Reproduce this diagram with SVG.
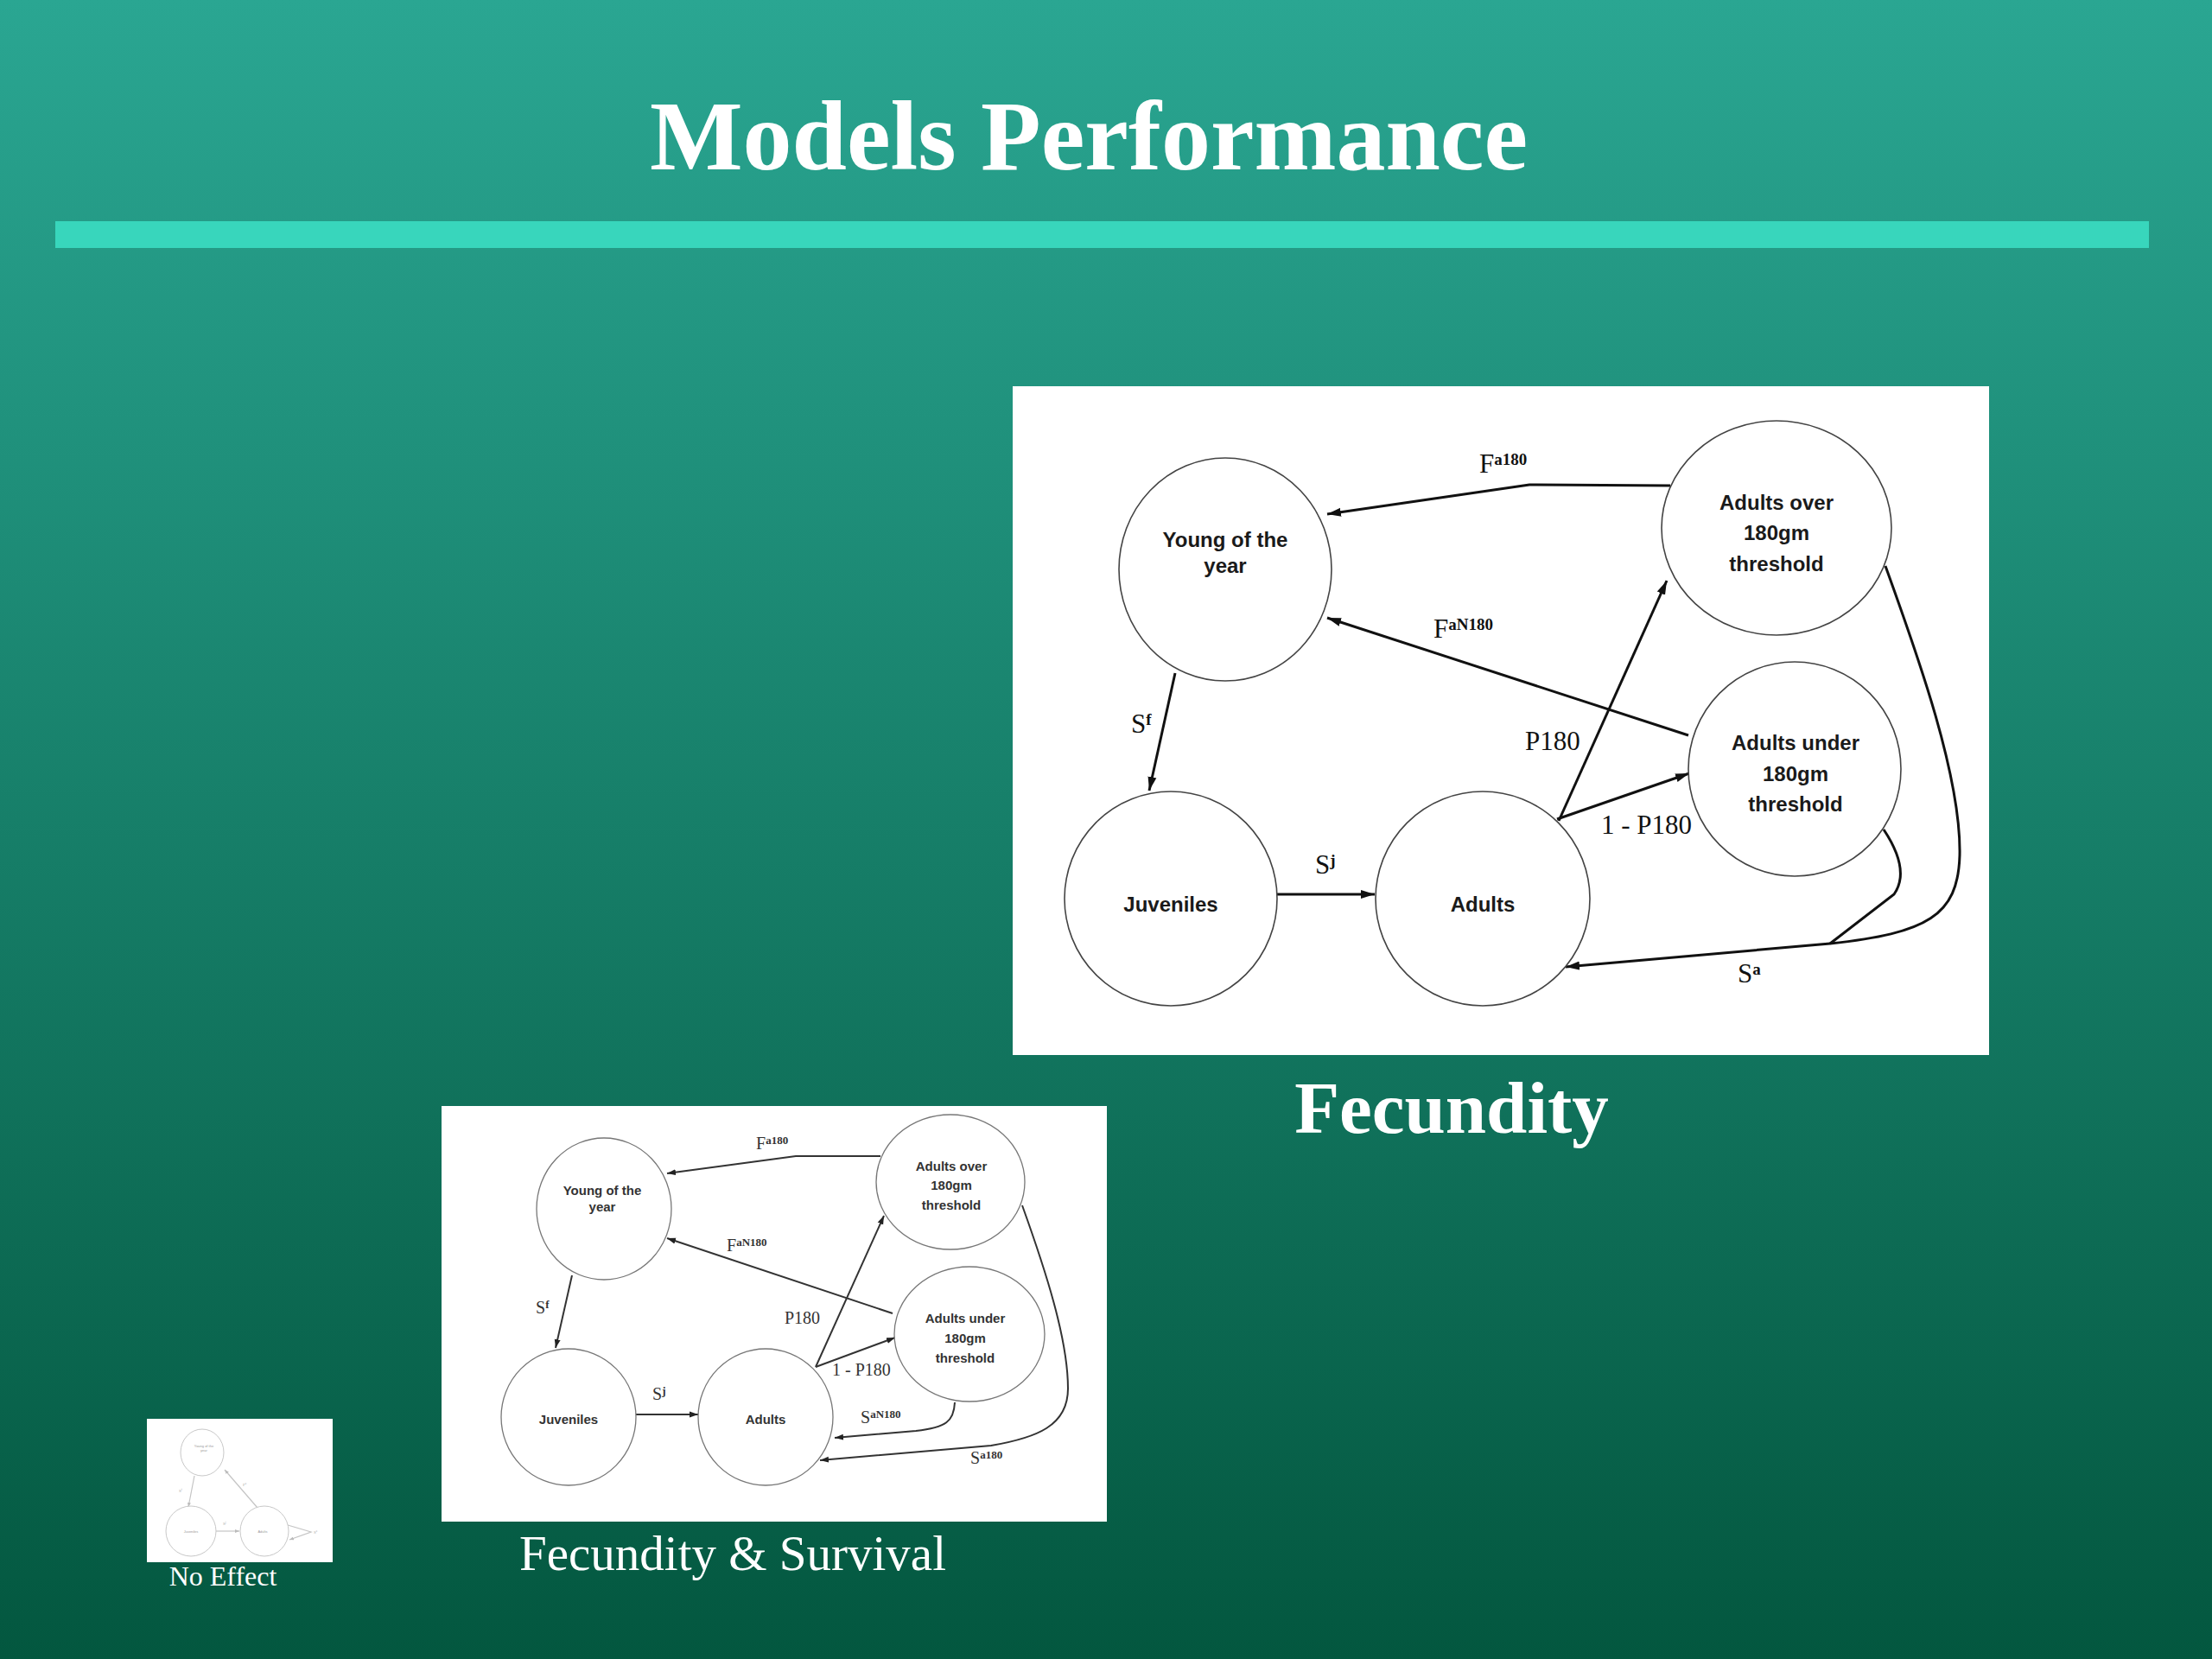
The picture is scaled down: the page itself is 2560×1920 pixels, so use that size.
<svg xmlns="http://www.w3.org/2000/svg" width="2560" height="1920" viewBox="0 0 2560 1920">
<defs>
<linearGradient id="bg" x1="0" y1="0" x2="0" y2="1">
<stop offset="0" stop-color="#2aa692"/>
<stop offset="1" stop-color="#03573f"/>
</linearGradient>
<marker id="ah" markerUnits="userSpaceOnUse" markerWidth="18" markerHeight="12" refX="16" refY="6" orient="auto">
<path d="M0,1 L16,6 L0,11 Z" fill="#111"/>
</marker>
<marker id="ah2" markerUnits="userSpaceOnUse" markerWidth="12" markerHeight="8" refX="10" refY="4" orient="auto">
<path d="M0,0.5 L10,4 L0,7.5 Z" fill="#222"/>
</marker>
<marker id="ah3" markerUnits="userSpaceOnUse" markerWidth="6" markerHeight="4" refX="5" refY="2" orient="auto">
<path d="M0,0 L5,2 L0,4 Z" fill="#bbb"/>
</marker>
</defs>
<style>
.title{font-family:"Liberation Serif","Times New Roman",serif;font-weight:bold;fill:#fff}
.cap{font-family:"Liberation Serif","Times New Roman",serif;fill:#fff}
.node1{fill:#fff;stroke:#444;stroke-width:1.6}
.node2{fill:#fff;stroke:#777;stroke-width:1.3}
.node3{fill:#fff;stroke:#c8c8c8;stroke-width:1}
.nt1{font-family:"Liberation Sans",Arial,sans-serif;font-weight:bold;font-size:24px;fill:#1a1a1a;text-anchor:middle}
.nt2{font-family:"Liberation Sans",Arial,sans-serif;font-weight:bold;font-size:15px;fill:#333;text-anchor:middle}
.nt3{font-family:"Liberation Sans",Arial,sans-serif;font-size:4px;fill:#999;text-anchor:middle}
.e1{fill:none;stroke:#111;stroke-width:3}
.e2{fill:none;stroke:#333;stroke-width:2}
.e3{fill:none;stroke:#c4c4c4;stroke-width:1.2}
.lb1{font-family:"Liberation Serif","Times New Roman",serif;font-size:31px;fill:#111}
.lb2{font-family:"Liberation Serif","Times New Roman",serif;font-size:20px;fill:#333}
.lb3{font-family:"Liberation Serif","Times New Roman",serif;font-size:5px;fill:#aaa}
.s1{font-size:19px;font-weight:bold}
.s2{font-size:13px;font-weight:bold}
</style>
<rect x="0" y="0" width="2560" height="1920" fill="url(#bg)"/>
<text class="title" x="1260" y="196" font-size="114" text-anchor="middle">Models Performance</text>
<rect x="64" y="256" width="2423" height="31" fill="#38d6bc"/>

<!-- Main diagram: Fecundity -->
<g id="panel-fecundity">
<rect x="1172" y="447" width="1130" height="774" fill="#fff"/>
<g id="connectors-main">
<path class="e1" d="M1933,562 L1770,561 L1536,595" marker-end="url(#ah)"/>
<path class="e1" d="M1954,851 L1536,715" marker-end="url(#ah)"/>
<path class="e1" d="M1360,779 L1330,915" marker-end="url(#ah)"/>
<path class="e1" d="M1478,1035 L1591,1035" marker-end="url(#ah)"/>
<path class="e1" d="M1804,950 L1929,672" marker-end="url(#ah)"/>
<path class="e1" d="M1802,948 L1955,895" marker-end="url(#ah)"/>
<path class="e1" d="M2182,655 C2220,760 2270,900 2268,990 C2266,1060 2230,1080 2118,1092 L1812,1119" marker-end="url(#ah)"/>
<path class="e1" d="M2180,960 C2200,990 2206,1015 2192,1035 L2118,1092"/>
<text class="lb1" x="1712" y="547">F<tspan class="s1" dy="-9">a180</tspan></text>
<text class="lb1" x="1659" y="738">F<tspan class="s1" dy="-9">aN180</tspan></text>
<text class="lb1" x="1309" y="848">S<tspan class="s1" dy="-9">f</tspan></text>
<text class="lb1" x="1522" y="1011">S<tspan class="s1" dy="-9">j</tspan></text>
<text class="lb1" x="1765" y="868">P180</text>
<text class="lb1" x="1853" y="965">1 - P180</text>
<text class="lb1" x="2011" y="1137">S<tspan class="s1" dy="-9">a</tspan></text>
</g>
<g id="n-young">
<ellipse class="node1" cx="1418" cy="659" rx="123" ry="129"/>
<text class="nt1" x="1418" y="633">Young of the</text>
<text class="nt1" x="1418" y="663">year</text>
</g>
<g id="n-over">
<ellipse class="node1" cx="2056" cy="611" rx="133" ry="124"/>
<text class="nt1" x="2056" y="590">Adults over</text>
<text class="nt1" x="2056" y="625">180gm</text>
<text class="nt1" x="2056" y="661">threshold</text>
</g>
<g id="n-under">
<ellipse class="node1" cx="2077" cy="890" rx="123" ry="124"/>
<text class="nt1" x="2078" y="868">Adults under</text>
<text class="nt1" x="2078" y="904">180gm</text>
<text class="nt1" x="2078" y="939">threshold</text>
</g>
<g id="n-juveniles">
<ellipse class="node1" cx="1355" cy="1040" rx="123" ry="124"/>
<text class="nt1" x="1355" y="1055">Juveniles</text>
</g>
<g id="n-adults">
<ellipse class="node1" cx="1716" cy="1040" rx="124" ry="124"/>
<text class="nt1" x="1716" y="1055">Adults</text>
</g>
</g>
<text class="title" x="1680" y="1311" font-size="85" text-anchor="middle">Fecundity</text>

<!-- Second diagram: Fecundity & Survival -->
<g id="panel-fecsurv">
<rect x="511" y="1280" width="770" height="481" fill="#fff"/>
<g id="connectors-fs">
<path class="e2" d="M1019,1338 L921,1338 L772,1358" marker-end="url(#ah2)"/>
<path class="e2" d="M1033,1520 L772,1433" marker-end="url(#ah2)"/>
<path class="e2" d="M662,1476 L643,1560" marker-end="url(#ah2)"/>
<path class="e2" d="M736,1637 L808,1637" marker-end="url(#ah2)"/>
<path class="e2" d="M944,1582 L1023,1407" marker-end="url(#ah2)"/>
<path class="e2" d="M944,1582 L1036,1548" marker-end="url(#ah2)"/>
<path class="e2" d="M1105,1623 C1104,1645 1095,1652 1060,1656 L966,1664" marker-end="url(#ah2)"/>
<path class="e2" d="M1183,1395 C1210,1470 1236,1550 1236,1607 C1236,1650 1200,1664 1147,1673 L949,1690" marker-end="url(#ah2)"/>
<text class="lb2" x="875" y="1330">F<tspan class="s2" dy="-6">a180</tspan></text>
<text class="lb2" x="841" y="1448">F<tspan class="s2" dy="-6">aN180</tspan></text>
<text class="lb2" x="620" y="1520">S<tspan class="s2" dy="-6">f</tspan></text>
<text class="lb2" x="755" y="1620">S<tspan class="s2" dy="-6">j</tspan></text>
<text class="lb2" x="908" y="1532">P180</text>
<text class="lb2" x="963" y="1592">1 - P180</text>
<text class="lb2" x="996" y="1647">S<tspan class="s2" dy="-6">aN180</tspan></text>
<text class="lb2" x="1123" y="1694">S<tspan class="s2" dy="-6">a180</tspan></text>
</g>
<g id="fs-young">
<ellipse class="node2" cx="699" cy="1399" rx="78" ry="82"/>
<text class="nt2" x="697" y="1383">Young of the</text>
<text class="nt2" x="697" y="1402">year</text>
</g>
<g id="fs-over">
<ellipse class="node2" cx="1100" cy="1368" rx="86" ry="78"/>
<text class="nt2" x="1101" y="1355">Adults over</text>
<text class="nt2" x="1101" y="1377">180gm</text>
<text class="nt2" x="1101" y="1400">threshold</text>
</g>
<g id="fs-under">
<ellipse class="node2" cx="1122" cy="1544" rx="87" ry="78"/>
<text class="nt2" x="1117" y="1531">Adults under</text>
<text class="nt2" x="1117" y="1554">180gm</text>
<text class="nt2" x="1117" y="1577">threshold</text>
</g>
<g id="fs-juveniles">
<ellipse class="node2" cx="658" cy="1640" rx="78" ry="79"/>
<text class="nt2" x="658" y="1648">Juveniles</text>
</g>
<g id="fs-adults">
<ellipse class="node2" cx="886" cy="1640" rx="78" ry="79"/>
<text class="nt2" x="886" y="1648">Adults</text>
</g>
</g>
<text class="cap" x="848" y="1817" font-size="57" text-anchor="middle">Fecundity &amp; Survival</text>

<!-- Third diagram: No Effect -->
<g id="panel-noeffect">
<rect x="170" y="1642" width="215" height="166" fill="#fff"/>
<g id="connectors-ne">
<path class="e3" d="M225,1708 L218,1744" marker-end="url(#ah3)"/>
<path class="e3" d="M298,1745 L260,1701" marker-end="url(#ah3)"/>
<path class="e3" d="M250,1772 L277,1772" marker-end="url(#ah3)"/>
<path class="e3" d="M333,1765 L360,1773 L335,1782" marker-end="url(#ah3)"/>
<text class="lb3" x="207" y="1727">S<tspan font-size="3" dy="-2">f</tspan></text>
<text class="lb3" x="281" y="1720">F<tspan font-size="3" dy="-2">a</tspan></text>
<text class="lb3" x="258" y="1765">S<tspan font-size="3" dy="-2">j</tspan></text>
<text class="lb3" x="363" y="1775">S<tspan font-size="3" dy="-2">a</tspan></text>
</g>
<g id="ne-young">
<ellipse class="node3" cx="234" cy="1681" rx="25" ry="27"/>
<text class="nt3" x="236" y="1675">Young of the</text>
<text class="nt3" x="236" y="1680">year</text>
</g>
<g id="ne-juveniles">
<ellipse class="node3" cx="221" cy="1772" rx="29" ry="29"/>
<text class="nt3" x="221" y="1774">Juveniles</text>
</g>
<g id="ne-adults">
<ellipse class="node3" cx="306" cy="1772" rx="28" ry="29"/>
<text class="nt3" x="304" y="1774">Adults</text>
</g>
</g>
<text class="cap" x="258" y="1835" font-size="32" text-anchor="middle">No Effect</text>
</svg>
